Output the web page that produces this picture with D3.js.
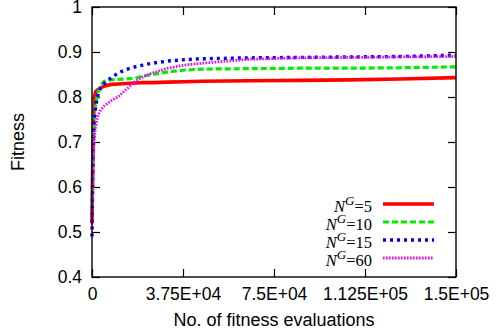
<!DOCTYPE html>
<meta charset="utf-8">
<style>

body {
  margin: 0;
  background: #fff;
}

.axis text {
  font: 17.5px "Liberation Sans", Arial, sans-serif;
  fill: #000;
}

.title {
  font: 18px "Liberation Sans", Arial, sans-serif;
  fill: #000;
}

.legend text {
  font: 16.5px "Liberation Serif", "Times New Roman", serif;
  fill: #000;
}

.series {
  fill: none;
}

</style>
<svg width="496" height="334"></svg>
<script src="https://d3js.org/d3.v7.min.js"></script>
<script>

// evaluations (shared x) and one fitness series per N^G
var evals = [0, 300, 600, 1000, 1500, 2500, 3500, 5000, 6500, 8000, 10700, 14000,
  17700, 21000, 24700, 31300, 38300, 45300, 65000, 85700, 106000, 127000, 150000];

var fitG5 = [0.52, 0.66, 0.75, 0.80, 0.812, 0.817, 0.820, 0.824, 0.826, 0.828, 0.829, 0.830,
  0.831, 0.832, 0.832, 0.833, 0.834, 0.835, 0.836, 0.837, 0.838, 0.840, 0.843];
var fitG10 = [0.55, 0.65, 0.72, 0.76, 0.785, 0.810, 0.825, 0.835, 0.838, 0.838, 0.839, 0.840,
  0.842, 0.846, 0.850, 0.856, 0.860, 0.862, 0.863, 0.864, 0.864, 0.865, 0.867];
var fitG15 = [0.49, 0.62, 0.70, 0.75, 0.780, 0.805, 0.820, 0.830, 0.837, 0.843, 0.853, 0.861,
  0.867, 0.871, 0.875, 0.880, 0.883, 0.885, 0.887, 0.888, 0.889, 0.890, 0.893];
var fitG60 = [0.51, 0.60, 0.67, 0.71, 0.735, 0.760, 0.770, 0.780, 0.786, 0.792, 0.800, 0.816,
  0.834, 0.845, 0.853, 0.864, 0.871, 0.875, 0.884, 0.887, 0.888, 0.889, 0.890];

var seriesLabels = ["5", "10", "15", "60"];
var xTicks = [0, 37500, 75000, 112500, 150000];
var xTickLabels = ["0", "3.75E+04", "7.5E+04", "1.125E+05", "1.5E+05"];
var yTicks = [0.4, 0.5, 0.6, 0.7, 0.8, 0.9, 1];

var series = [fitG5, fitG10, fitG15, fitG60];
var colors = ["#ff0000", "#00ee00", "#0000ff", "#ff00ff"];
var widths = [3.6, 3.2, 3.4, 2.8];
var dashes = [null, "6,3", "3,4", "1.6,1.4"];

var svg = d3.select("svg"),
    margin = {top: 7, right: 40, bottom: 57, left: 92},
    width = +svg.attr("width") - margin.left - margin.right,
    height = +svg.attr("height") - margin.top - margin.bottom,
    g = svg.append("g").attr("transform", "translate(" + margin.left + "," + margin.top + ")");

var x = d3.scaleLinear().domain([0, 150000]).range([0, width]);
var y = d3.scaleLinear().domain([0.4, 1]).range([height, 0]);

// inward ticks on all four sides, labels only bottom/left
g.append("g")
    .attr("class", "axis")
    .attr("transform", "translate(0," + height + ")")
    .call(d3.axisBottom(x).tickValues(xTicks)
      .tickFormat(function(d, i) { return xTickLabels[i]; })
      .tickSizeInner(-8).tickSizeOuter(0).tickPadding(11));

g.append("g")
    .attr("class", "axis")
    .call(d3.axisLeft(y).tickValues(yTicks)
      .tickFormat(function(d) { return String(d); })
      .tickSizeInner(-8).tickSizeOuter(0).tickPadding(10));

g.append("g")
    .attr("class", "axis")
    .call(d3.axisTop(x).tickValues(xTicks).tickFormat("")
      .tickSizeInner(-8).tickSizeOuter(0));

g.append("g")
    .attr("class", "axis")
    .attr("transform", "translate(" + width + ",0)")
    .call(d3.axisRight(y).tickValues(yTicks).tickFormat("")
      .tickSizeInner(-8).tickSizeOuter(0));

g.selectAll(".axis path").remove();
g.selectAll(".axis line").attr("stroke", "#000").attr("stroke-width", 1.2);

var line = d3.line()
    .x(function(d, i) { return x(evals[i]); })
    .y(function(d) { return y(d); });

g.selectAll(".series")
  .data(series)
  .enter().append("path")
    .attr("class", "series")
    .attr("d", line)
    .attr("stroke", function(d, i) { return colors[i]; })
    .attr("stroke-width", function(d, i) { return widths[i]; })
    .attr("stroke-dasharray", function(d, i) { return dashes[i]; });

g.append("rect")
    .attr("width", width)
    .attr("height", height)
    .attr("fill", "none")
    .attr("stroke", "#000")
    .attr("stroke-width", 1.4);

// legend
var legend = g.append("g")
    .attr("class", "legend")
  .selectAll("g")
  .data(seriesLabels)
  .enter().append("g")
    .attr("transform", function(d, i) { return "translate(0," + (197 + i * 18) + ")"; });

var label = legend.append("text")
    .attr("x", 280)
    .attr("y", 7.5)
    .attr("text-anchor", "end");
label.append("tspan").attr("font-style", "italic").text("N");
label.append("tspan").attr("font-style", "italic").attr("font-size", "13px")
    .attr("dy", -7).text("G");
label.append("tspan").attr("dy", 7).text(function(d) { return "=" + d; });

legend.append("line")
    .attr("x1", 291)
    .attr("x2", 342)
    .attr("stroke", function(d, i) { return colors[i]; })
    .attr("stroke-width", function(d, i) { return widths[i]; })
    .attr("stroke-dasharray", function(d, i) { return dashes[i]; });

svg.append("text")
    .attr("class", "title")
    .attr("x", margin.left + width / 2)
    .attr("y", 326)
    .attr("text-anchor", "middle")
    .text("No. of fitness evaluations");

svg.append("text")
    .attr("class", "title")
    .attr("transform", "translate(24," + (margin.top + height / 2) + ")rotate(-90)")
    .attr("text-anchor", "middle")
    .text("Fitness");

</script>
